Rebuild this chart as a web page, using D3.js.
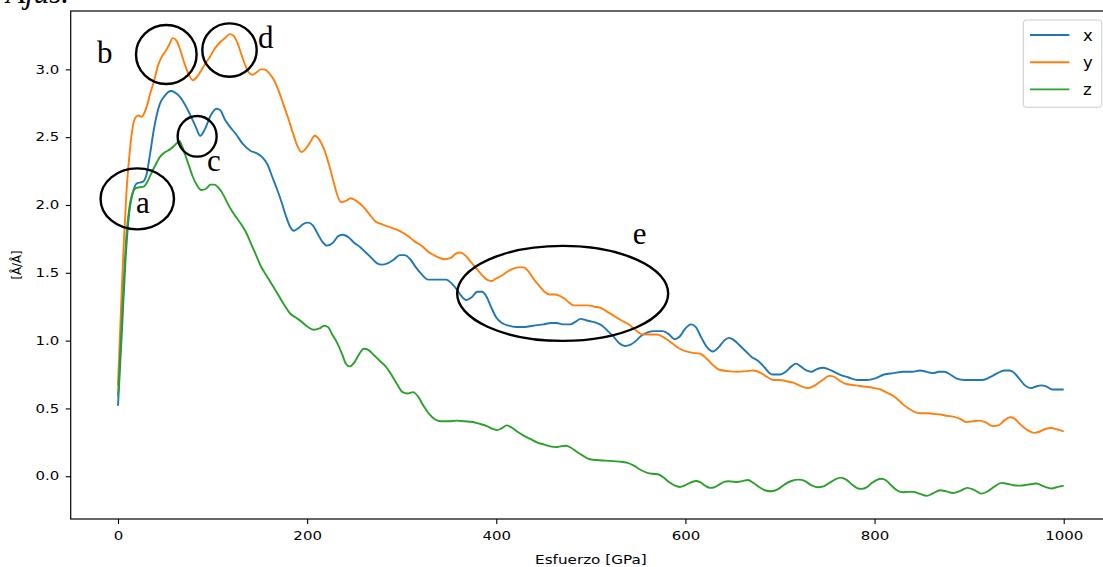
<!DOCTYPE html>
<html>
<head>
<meta charset="utf-8">
<script src="https://cdn.jsdelivr.net/npm/d3@7"></script>
<style>
  html, body { margin: 0; padding: 0; background: #fff; }
  svg { display: block; }
  text { font-family: "DejaVu Sans", sans-serif; fill: #000; }
  .serif { font-family: "Liberation Serif", "Times New Roman", serif; }
</style>
</head>
<body>
<svg id="chart" width="1103" height="567"></svg>
<script>
// Strain along each direction under applied stress [GPa].
const stressX = [0,4,8,12,16,20,26,30,34,38,44,50,56,60,65,70,76,82,87,92,98,104,108,113,118,125,132,140,147,153,158,163,168,173,178,182,186,191,196,201,206,211,216,221,227,233,238,244,250,256,262,268,274,279,285,292,298,303,309,315,321,328,338,347,353,358,363,368,374,380,385,390,395,400,406,413,421,430,439,450,458,464,470,478,484,489,495,501,506,512,518,524,530,536,542,548,554,560,567,576,582,589,594,600,606,611,617,623,629,635,641,646,652,658,664,670,677,684,689,693,700,706,712,717,722,728,733,739,746,754,763,772,782,792,800,810,820,830,840,848,855,862,868,874,880,887,895,905,914,922,930,937,943,948,954,959,965,970,976,982,988,994,1000];
const strainX = [0.52,1.05,1.6,1.95,2.10,2.16,2.17,2.22,2.38,2.56,2.74,2.81,2.84,2.83,2.80,2.75,2.67,2.58,2.51,2.56,2.66,2.71,2.70,2.63,2.58,2.52,2.45,2.40,2.38,2.35,2.30,2.21,2.12,2.02,1.91,1.84,1.81,1.83,1.86,1.87,1.85,1.79,1.73,1.70,1.72,1.77,1.78,1.76,1.72,1.69,1.65,1.61,1.57,1.56,1.57,1.60,1.63,1.63,1.60,1.54,1.49,1.45,1.45,1.45,1.42,1.38,1.33,1.30,1.32,1.36,1.36,1.32,1.24,1.17,1.13,1.11,1.10,1.10,1.11,1.12,1.13,1.13,1.12,1.12,1.14,1.16,1.15,1.14,1.13,1.11,1.07,1.03,0.98,0.96,0.97,1.00,1.04,1.06,1.07,1.07,1.05,1.01,1.03,1.09,1.12,1.10,1.02,0.95,0.92,0.95,1.00,1.02,1.00,0.96,0.92,0.88,0.85,0.80,0.76,0.75,0.75,0.77,0.81,0.83,0.81,0.78,0.77,0.79,0.80,0.78,0.75,0.73,0.71,0.71,0.72,0.75,0.76,0.77,0.77,0.78,0.77,0.76,0.77,0.77,0.75,0.72,0.71,0.71,0.71,0.73,0.76,0.78,0.78,0.76,0.71,0.67,0.65,0.66,0.67,0.66,0.64,0.64,0.64];

const stressY = [0,3,6,9,12,15,19,22,25,28,31,34,38,42,46,50,54,58,62,66,70,75,79,83,87,92,97,102,108,113,118,122,126,130,134,138,142,147,151,155,160,165,170,175,180,185,190,194,198,203,208,213,218,223,228,232,236,241,246,252,259,266,272,278,286,294,300,307,314,321,329,337,345,352,357,362,367,372,378,384,390,395,400,406,412,418,424,429,434,440,446,451,456,462,467,472,477,482,490,497,504,511,518,525,532,540,547,555,562,570,578,586,594,601,608,615,622,629,636,645,655,664,672,680,687,693,700,707,714,722,730,737,745,752,758,764,770,780,791,800,806,812,818,824,830,836,842,848,856,862,870,877,883,890,897,904,911,918,925,931,937,943,948,953,958,963,969,975,981,987,993,1000];
const strainY = [0.67,1.2,1.7,2.1,2.36,2.55,2.65,2.66,2.65,2.68,2.74,2.82,2.91,3.02,3.09,3.13,3.18,3.23,3.21,3.14,3.05,2.96,2.92,2.94,2.98,3.04,3.09,3.15,3.20,3.23,3.26,3.25,3.20,3.12,3.04,2.98,2.96,2.98,3.00,3.00,2.97,2.92,2.84,2.74,2.64,2.53,2.43,2.39,2.41,2.46,2.51,2.48,2.41,2.30,2.17,2.07,2.02,2.03,2.05,2.03,1.99,1.93,1.88,1.86,1.84,1.82,1.80,1.77,1.73,1.70,1.65,1.62,1.60,1.61,1.64,1.65,1.63,1.59,1.54,1.49,1.45,1.44,1.46,1.48,1.51,1.53,1.54,1.54,1.51,1.45,1.40,1.36,1.34,1.34,1.33,1.31,1.28,1.26,1.26,1.26,1.25,1.24,1.21,1.18,1.15,1.12,1.08,1.045,1.045,1.045,1.02,0.98,0.94,0.92,0.91,0.905,0.87,0.82,0.785,0.775,0.77,0.775,0.78,0.76,0.73,0.71,0.71,0.70,0.69,0.665,0.65,0.67,0.71,0.74,0.73,0.70,0.68,0.67,0.66,0.65,0.64,0.62,0.60,0.57,0.53,0.50,0.475,0.465,0.465,0.46,0.455,0.445,0.44,0.425,0.40,0.405,0.41,0.395,0.37,0.375,0.41,0.435,0.425,0.39,0.36,0.335,0.32,0.33,0.35,0.356,0.345,0.33];

const stressZ = [0,3,6,9,12,15,18,22,27,31,35,40,45,50,55,60,65,68,71,75,79,84,88,93,98,102,107,111,116,121,126,131,136,141,146,151,157,164,170,176,182,188,194,201,207,213,218,222,227,232,237,241,245,250,255,260,265,271,277,283,289,295,301,306,312,317,323,329,335,342,350,358,366,375,383,390,396,401,406,411,416,422,429,436,443,450,457,463,469,474,479,485,492,499,509,520,530,538,545,552,559,565,571,577,583,589,594,600,606,611,616,621,626,631,636,641,645,650,655,660,666,672,679,685,691,698,705,712,720,726,733,740,746,752,758,764,770,776,781,786,792,797,802,807,812,818,824,830,836,841,848,855,862,869,876,883,890,898,905,913,920,927,934,940,947,954,962,971,979,987,994,1000];
const strainZ = [0.59,1.0,1.42,1.78,1.98,2.08,2.12,2.13,2.135,2.17,2.23,2.30,2.36,2.39,2.41,2.44,2.47,2.43,2.37,2.29,2.21,2.14,2.11,2.12,2.15,2.15,2.12,2.08,2.01,1.95,1.90,1.85,1.79,1.71,1.63,1.55,1.48,1.40,1.33,1.26,1.20,1.17,1.14,1.10,1.08,1.09,1.11,1.10,1.04,0.98,0.90,0.83,0.81,0.84,0.90,0.94,0.93,0.89,0.85,0.81,0.75,0.68,0.62,0.61,0.62,0.59,0.52,0.46,0.42,0.405,0.405,0.41,0.405,0.40,0.385,0.37,0.35,0.34,0.355,0.375,0.36,0.33,0.30,0.275,0.25,0.235,0.22,0.215,0.222,0.225,0.21,0.18,0.15,0.125,0.118,0.113,0.108,0.10,0.08,0.05,0.027,0.018,0.015,-0.01,-0.045,-0.07,-0.079,-0.065,-0.045,-0.035,-0.045,-0.07,-0.086,-0.08,-0.06,-0.042,-0.037,-0.04,-0.042,-0.036,-0.028,-0.05,-0.085,-0.105,-0.111,-0.095,-0.06,-0.035,-0.025,-0.035,-0.065,-0.081,-0.075,-0.05,-0.025,-0.01,-0.025,-0.06,-0.085,-0.093,-0.08,-0.05,-0.028,-0.018,-0.03,-0.07,-0.105,-0.118,-0.115,-0.115,-0.13,-0.145,-0.125,-0.103,-0.112,-0.123,-0.11,-0.086,-0.1,-0.128,-0.11,-0.075,-0.049,-0.055,-0.066,-0.069,-0.062,-0.054,-0.075,-0.09,-0.078,-0.069];

const seriesNames = ["x", "y", "z"];
const seriesColors = ["#1f77b4", "#ff7f0e", "#2ca02c"];
const xTicks = [0, 200, 400, 600, 800, 1000];
const yTicks = [0, 0.5, 1.0, 1.5, 2.0, 2.5, 3.0];

// Highlighted regions: centre in data units, radii in pixels, letter position in data units.
const regionLabels = ["a", "b", "c", "d", "e"];
const regionStress = [20.4, 51.1, 83.7, 117.9, 470.2];
const regionStrain = [2.045, 3.109, 2.506, 3.142, 1.348];
const regionRx = [36.7, 30.3, 19.5, 27.2, 105.5];
const regionRy = [30.5, 29.5, 20.3, 26.7, 47.5];
const letterStress = [19, -22.2, 94.1, 148, 544.4];
const letterStrain = [1.94, 3.046, 2.249, 3.157, 1.711];

const series = seriesNames.map((name, i) => ({
  name,
  color: seriesColors[i],
  points: [stressX, stressY, stressZ][i].map((s, j) => [s, [strainX, strainY, strainZ][i][j]])
}));

const svg = d3.select("#chart");
const plot = { left: 70.7, right: 1111, top: 11, bottom: 519 };
const sx = 1.3; // horizontal widening of the axis lettering

// Axis limits: data extent padded by 5% on each side.
function padded(ext) { const m = (ext[1] - ext[0]) * 0.05; return [ext[0] - m, ext[1] + m]; }
const allStress = stressX.concat(stressY, stressZ);
const allStrain = strainX.concat(strainY, strainZ);
const x = d3.scaleLinear().domain(padded(d3.extent(allStress))).range([plot.left, plot.right]);
const y = d3.scaleLinear().domain(padded(d3.extent(allStrain))).range([plot.bottom, plot.top]);

function widen(sel, k) {
  sel.each(function () {
    const t = d3.select(this);
    const x0 = +t.attr("x") || 0;
    t.attr("x", x0 / k).attr("transform", `scale(${k},1)`);
  });
}

// Curves
const line = d3.line().x(d => x(d[0])).y(d => y(d[1])).curve(d3.curveMonotoneX);
svg.append("g").selectAll("path").data(series).join("path")
  .attr("d", d => line(d.points))
  .attr("fill", "none")
  .attr("stroke", d => d.color)
  .attr("stroke-width", 1.9)
  .attr("stroke-linejoin", "round");

// Axes
const xAxis = svg.append("g").attr("transform", `translate(0,${plot.bottom})`)
  .call(d3.axisBottom(x).tickValues(xTicks).tickFormat(d3.format("d")).tickSize(5).tickPadding(7.5));
const yAxis = svg.append("g").attr("transform", `translate(${plot.left},0)`)
  .call(d3.axisLeft(y).tickValues(yTicks).tickFormat(d3.format(".1f")).tickSize(5).tickPadding(6.4));
[xAxis, yAxis].forEach(a => {
  a.select(".domain").remove();
  a.selectAll(".tick line").attr("stroke", "#000").attr("stroke-width", 1.1);
  a.selectAll(".tick text").attr("font-size", 11.5).attr("font-family", "DejaVu Sans").attr("fill", "#000");
  widen(a.selectAll(".tick text"), sx);
});

// Frame
svg.append("rect")
  .attr("x", plot.left).attr("y", plot.top)
  .attr("width", plot.right - plot.left).attr("height", plot.bottom - plot.top)
  .attr("fill", "none").attr("stroke", "#000").attr("stroke-width", 1.2);

// Axis titles
svg.append("g").attr("transform", `translate(${(plot.left + plot.right) / 2},564)`)
  .append("text").attr("text-anchor", "middle").attr("font-size", 11.7)
  .attr("transform", `scale(${sx},1)`).text("Esfuerzo [GPa]");
svg.append("g").attr("transform", `translate(21,${(plot.top + plot.bottom) / 2})`)
  .append("text").attr("text-anchor", "middle").attr("font-size", 11.7)
  .attr("transform", "rotate(-90)").text("[Å/Å]");

// Highlighted regions
const regions = regionLabels.map((l, i) => ({
  l, cx: regionStress[i], cy: regionStrain[i], rx: regionRx[i], ry: regionRy[i],
  tx: letterStress[i], ty: letterStrain[i]
}));
const rg = svg.append("g");
rg.selectAll("ellipse").data(regions).join("ellipse")
  .attr("cx", d => x(d.cx)).attr("cy", d => y(d.cy))
  .attr("rx", d => d.rx).attr("ry", d => d.ry)
  .attr("fill", "none").attr("stroke", "#000").attr("stroke-width", 2.4);
rg.selectAll("text").data(regions).join("text")
  .attr("class", "serif")
  .attr("x", d => x(d.tx)).attr("y", d => y(d.ty))
  .attr("font-size", 31)
  .text(d => d.l);

// Caption fragment above the figure
svg.append("text").attr("class", "serif")
  .attr("x", 69).attr("y", 3).attr("text-anchor", "end")
  .attr("font-size", 31).attr("font-style", "italic")
  .text("Ajus.");

// Legend
const lg = svg.append("g");
lg.append("rect").attr("x", 1023.3).attr("y", 20).attr("width", 78.4).attr("height", 87.3)
  .attr("rx", 3).attr("fill", "#fff").attr("fill-opacity", 0.8)
  .attr("stroke", "#ccc").attr("stroke-width", 1);
const entries = lg.selectAll("g.entry").data(series).join("g")
  .attr("class", "entry")
  .attr("transform", (d, i) => `translate(0,${35 + i * 27.2})`);
entries.append("line").attr("x1", 1030).attr("x2", 1069.3)
  .attr("stroke", d => d.color).attr("stroke-width", 1.9);
entries.append("text").attr("x", 1083).attr("dy", "0.35em")
  .attr("font-size", 16.5).text(d => d.name);
</script>
</body>
</html>
